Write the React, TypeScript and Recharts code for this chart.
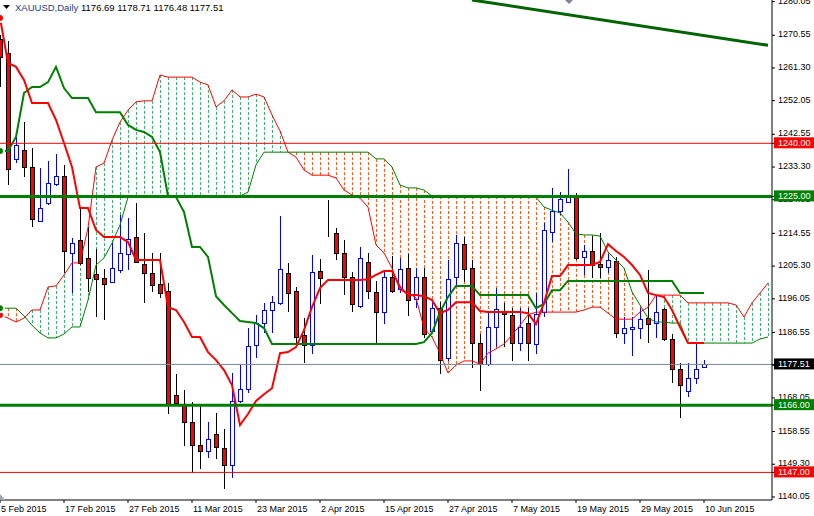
import React from "react";
import { ComposedChart, Bar, Line, XAxis, YAxis, ReferenceLine } from "recharts";

// date labels every 8th bar, starting at bar 0
const tickLabels = [
  "5 Feb 2015", "17 Feb 2015", "27 Feb 2015", "11 Mar 2015", "23 Mar 2015", "2 Apr 2015",
  "15 Apr 2015", "27 Apr 2015", "7 May 2015", "19 May 2015", "29 May 2015", "10 Jun 2015",
];

const opens = [
  1269.5, 1265.55, 1235.7, 1237.98, 1233.4, 1218.08, 1223.2, 1228.6, 1230.9, 1209.0,
  1212.7, 1207.55, 1203.0, 1201.9, 1200.75, 1204.15, 1208.7, 1213.5, 1205.9, 1203.3,
  1200.2, 1198.2, 1168.9, 1166.0, 1161.25, 1154.7, 1153.0, 1157.8, 1153.85, 1149.0,
  1167.2, 1170.6, 1183.1, 1189.1, 1192.8, 1194.8, 1203.3, 1198.2, 1185.7, 1183.1,
  1203.85, 1214.7, 1214.65, 1209.0, 1202.2, 1193.9, 1206.4, 1197.9, 1192.2, 1202.2,
  1198.75, 1204.7, 1195.9, 1202.2, 1187.1, 1193.6, 1179.4, 1202.2, 1211.55, 1204.7,
  1183.7, 1177.7, 1187.95, 1192.5, 1191.6, 1183.7, 1189.1, 1183.4, 1192.2, 1214.95,
  1220.9, 1223.5, 1225.5, 1207.85, 1209.55, 1205.9, 1205.0, 1206.7, 1186.5, 1187.4,
  1187.7, 1190.5, 1189.1, 1193.05, 1184.8, 1176.3, 1170.05, 1173.75, 1176.69,
];
const highs = [
  1270.6, 1268.96, 1241.9, 1245.95, 1238.8, 1232.9, 1234.9, 1236.85, 1234.0, 1213.25,
  1222.05, 1216.4, 1210.1, 1204.4, 1211.8, 1219.8, 1218.9, 1223.2, 1214.65, 1209.0,
  1209.0, 1200.45, 1174.9, 1170.3, 1166.9, 1166.35, 1161.25, 1163.8, 1159.2, 1175.15,
  1177.4, 1187.7, 1191.35, 1194.8, 1196.8, 1219.5, 1206.15, 1199.3, 1190.5, 1208.4,
  1207.3, 1224.05, 1216.1, 1212.7, 1203.6, 1210.7, 1209.0, 1201.0, 1204.15, 1208.1,
  1207.55, 1208.7, 1204.7, 1204.7, 1194.8, 1195.05, 1207.0, 1214.1, 1213.5, 1207.0,
  1186.25, 1192.2, 1199.05, 1194.8, 1193.35, 1193.6, 1193.35, 1197.6, 1217.5, 1227.5,
  1226.3, 1232.6, 1226.05, 1211.25, 1213.8, 1214.65, 1208.7, 1207.85, 1190.8, 1190.8,
  1193.6, 1204.15, 1197.05, 1193.6, 1186.25, 1178.0, 1178.0, 1183.4, 1178.71,
];
const lows = [
  1255.9, 1228.3, 1234.3, 1230.6, 1216.4, 1217.8, 1222.6, 1228.0, 1203.3, 1197.6,
  1205.6, 1197.9, 1190.8, 1190.2, 1200.45, 1203.3, 1204.15, 1206.15, 1194.8, 1197.9,
  1196.2, 1163.5, 1165.8, 1154.4, 1146.75, 1148.1, 1151.0, 1150.7, 1142.4, 1145.3,
  1166.6, 1169.5, 1179.4, 1186.3, 1186.3, 1194.2, 1192.2, 1182.8, 1178.0, 1180.5,
  1194.5, 1213.5, 1207.0, 1197.05, 1192.2, 1193.6, 1195.9, 1183.4, 1188.8, 1197.6,
  1197.6, 1191.1, 1193.6, 1185.1, 1186.3, 1174.9, 1178.6, 1199.3, 1200.75, 1176.6,
  1170.05, 1177.15, 1182.3, 1182.3, 1178.6, 1181.4, 1178.6, 1180.5, 1190.8, 1212.1,
  1219.8, 1223.2, 1207.0, 1202.7, 1201.9, 1201.9, 1203.3, 1185.1, 1183.4, 1180.0,
  1184.8, 1183.7, 1185.1, 1184.25, 1172.3, 1162.4, 1168.35, 1172.05, 1176.48,
];
const closes = [
  1264.4, 1232.8, 1239.4, 1233.4, 1218.65, 1221.8, 1228.9, 1230.9, 1209.55, 1211.8,
  1206.15, 1201.9, 1201.6, 1200.2, 1204.7, 1209.0, 1213.0, 1206.4, 1203.3, 1199.9,
  1197.6, 1166.0, 1166.6, 1161.25, 1154.7, 1153.0, 1156.4, 1154.1, 1149.0, 1167.2,
  1170.6, 1182.8, 1189.1, 1192.8, 1195.05, 1204.4, 1197.6, 1185.4, 1183.1, 1203.6,
  1201.9, 1214.6, 1209.0, 1202.2, 1194.5, 1207.55, 1198.2, 1192.2, 1202.2, 1198.2,
  1204.4, 1195.6, 1202.2, 1186.25, 1193.6, 1178.85, 1201.6, 1211.8, 1204.4, 1183.7,
  1177.7, 1187.95, 1193.05, 1191.9, 1183.7, 1188.2, 1183.7, 1191.9, 1215.5, 1220.9,
  1224.3, 1225.5, 1207.55, 1209.55, 1205.6, 1205.0, 1207.0, 1186.5, 1187.7, 1188.0,
  1190.25, 1188.8, 1192.2, 1184.8, 1176.3, 1171.75, 1173.75, 1176.3, 1177.51,
];

const tenkan = [
  1275.4, 1262.7, 1261.6, 1257.9, 1251.4, 1251.4, 1251.4, 1246.6, 1240.1, 1233.3,
  1221.7, 1221.7, 1215.5, 1213.5, 1213.5, 1213.5, 1212.1, 1207.0, 1207.0, 1207.0,
  1207.0, 1193.7, 1192.9, 1189.5, 1185.25, 1185.25, 1181.0, 1178.75, 1175.9, 1171.7,
  1160.4, 1163.5, 1167.2, 1169.1, 1170.8, 1180.7, 1181.0, 1182.4, 1187.2, 1193.7,
  1199.1, 1201.4, 1201.4, 1201.4, 1201.4, 1201.4, 1201.6, 1202.8, 1203.9, 1203.9,
  1199.4, 1197.1, 1197.1, 1196.8, 1195.7, 1192.0, 1192.9, 1195.1, 1195.1, 1195.1,
  1192.6, 1192.3, 1192.3, 1192.3, 1192.3, 1192.3, 1192.0, 1188.9, 1194.9, 1202.5,
  1202.5, 1205.6, 1205.6, 1205.6, 1205.6, 1206.45, 1211.5, 1209.55, 1207.9, 1205.6,
  1202.8, 1197.7, 1197.1, 1196.55, 1192.9, 1188.1, 1183.55, 1183.55, 1183.55,
];
const kijun = [
  1237.8, 1237.8, 1241.8, 1254.2, 1255.9, 1255.9, 1257.3, 1261.6, 1255.6, 1252.8,
  1252.8, 1252.8, 1248.8, 1248.8, 1248.8, 1248.8, 1245.2, 1243.8, 1243.2, 1241.8,
  1237.5, 1225.1, 1224.8, 1220.6, 1210.7, 1210.7, 1207.9, 1196.8, 1194.3, 1192.0,
  1189.8, 1189.5, 1189.2, 1187.8, 1183.3, 1183.3, 1183.3, 1183.3, 1183.3, 1183.3,
  1183.3, 1183.3, 1183.3, 1183.3, 1183.3, 1183.3, 1183.3, 1183.3, 1183.3, 1183.3,
  1183.3, 1183.3, 1183.3, 1183.8, 1186.4, 1192.3, 1196.55, 1199.7, 1199.7, 1199.7,
  1197.1, 1197.1, 1197.1, 1197.1, 1197.1, 1197.1, 1197.1, 1193.4, 1194.6, 1198.5,
  1198.5, 1201.1, 1201.1, 1201.1, 1201.1, 1201.1, 1201.1, 1201.1, 1201.1, 1201.1,
  1201.1, 1201.1, 1201.1, 1201.1, 1201.1, 1197.7, 1197.7, 1197.7, 1197.7,
];

// cloud spans run 8 bars past the last candle
const spanA = [
  1191.5, 1190.6, 1189.5, 1190.6, 1192.9, 1192.9, 1199.4, 1199.7, 1202.8, 1206.2,
  1206.2, 1216.1, 1233.3, 1234.4, 1240.9, 1246.0, 1249.4, 1251.7, 1252.0, 1252.0,
  1259.3, 1258.7, 1258.7, 1258.7, 1258.7, 1257.3, 1256.5, 1250.3, 1252.0, 1255.1,
  1253.1, 1253.1, 1253.9, 1253.1, 1248.0, 1243.5, 1237.5, 1236.1, 1232.45, 1231.0,
  1231.0, 1231.0, 1230.2, 1226.8, 1225.4, 1224.5, 1222.0, 1211.25, 1209.0, 1204.75,
  1198.5, 1197.7, 1196.3, 1187.8, 1185.25, 1180.7, 1175.1, 1177.3, 1178.5, 1178.5,
  1177.6, 1180.7, 1181.9, 1183.3, 1185.8, 1188.6, 1191.5, 1192.3, 1192.3, 1192.3,
  1192.3, 1192.3, 1192.3, 1192.9, 1193.7, 1193.7, 1192.0, 1190.3, 1190.3, 1190.3,
  1192.3, 1193.7, 1197.1, 1197.1, 1197.1, 1197.1, 1194.9, 1194.9, 1194.9, 1194.9,
  1194.9, 1194.9, 1194.3, 1190.9, 1194.9, 1197.7, 1200.5,
];
const spanB = [
  1193.4, 1193.4, 1193.4, 1191.2, 1188.6, 1186.4, 1185.0, 1185.0, 1186.1, 1188.1,
  1188.1, 1195.7, 1205.6, 1207.6, 1211.8, 1216.9, 1224.8, 1225.1, 1225.1, 1225.1,
  1225.1, 1225.1, 1225.1, 1225.1, 1225.1, 1225.1, 1225.1, 1225.1, 1225.1, 1225.1,
  1225.1, 1226.2, 1233.9, 1237.5, 1237.5, 1237.5, 1237.5, 1237.5, 1237.5, 1237.5,
  1237.5, 1237.5, 1237.5, 1237.5, 1237.5, 1237.5, 1237.5, 1235.6, 1235.6, 1233.3,
  1228.2, 1227.4, 1227.4, 1226.8, 1225.1, 1225.1, 1225.1, 1225.1, 1225.1, 1225.1,
  1225.1, 1225.1, 1225.1, 1225.1, 1225.1, 1225.1, 1225.1, 1224.8, 1222.0, 1221.1,
  1220.3, 1217.75, 1214.4, 1214.1, 1214.1, 1213.8, 1209.3, 1207.0, 1204.75, 1198.0,
  1194.3, 1190.6, 1189.5, 1189.5, 1189.2, 1189.2, 1183.55, 1183.55, 1183.55, 1183.55,
  1183.55, 1183.55, 1183.55, 1183.55, 1183.55, 1184.7, 1185.25,
];

const priceTicks = [
  1280.05, 1270.55, 1261.3, 1252.05, 1242.55, 1233.3, 1224.05, 1214.55,
  1205.3, 1196.05, 1186.55, 1177.3, 1168.05, 1158.55, 1149.3, 1140.05,
];
const levelBoxes: Record<string, string> = {
  "1240": "#ff0000",
  "1225": "#008000",
  "1177.51": "#000000",
  "1166": "#008000",
  "1147": "#ff0000",
};
const lastPrice = 1177.51;

const rows = spanA.map((a, i) => ({
  i,
  candle: i < opens.length ? [lows[i], highs[i]] : undefined,
  open: opens[i],
  close: closes[i],
  tenkan: tenkan[i],
  kijun: kijun[i],
  spanA: a,
  spanB: spanB[i],
  cloud: a === spanB[i] ? undefined : [Math.min(a, spanB[i]), Math.max(a, spanB[i])],
}));

const FONT = "'Liberation Sans', Arial, sans-serif";

function Candle(props: any) {
  const { x, y, width, height, payload } = props;
  if (!payload || payload.open == null || !payload.candle) return null;
  const [lo, hi] = payload.candle;
  const top = Math.min(y, y + height);
  const h = Math.abs(height);
  const k = hi > lo ? h / (hi - lo) : 0;
  const py = (v: number) => top + (hi - v) * k;
  const cx = Math.round(x + width / 2);
  const up = payload.close >= payload.open;
  const bTop = Math.round(py(Math.max(payload.open, payload.close)));
  const bBot = Math.round(py(Math.min(payload.open, payload.close)));
  const wickTop = Math.round(top);
  const wickBot = Math.round(top + h);
  return (
    <g>
      <rect x={cx} y={wickTop} width={1} height={Math.max(1, wickBot - wickTop)} fill={up ? "#0000ff" : "#000000"} />
      <rect
        x={cx - 1.5}
        y={bTop + 0.5}
        width={4}
        height={Math.max(0, bBot - bTop)}
        fill={up ? "#ffffff" : "#ff0000"}
        stroke={up ? "#0000ff" : "#000000"}
        strokeWidth={1}
      />
    </g>
  );
}

function CloudDash(props: any) {
  const { x, y, width, height, payload } = props;
  if (!payload || !payload.cloud) return null;
  const cx = Math.round(x + width / 2) + 0.5;
  const top = Math.min(y, y + height);
  const color = payload.spanA > payload.spanB ? "#3cb371" : "#ff5a1a";
  return (
    <line x1={cx} x2={cx} y1={top} y2={top + Math.abs(height)} stroke={color} strokeWidth={1} strokeDasharray="3 2" />
  );
}

function PriceTick(props: any) {
  const { x, y, payload } = props;
  const v = payload.value as number;
  const bg = levelBoxes[String(v)];
  if (bg) {
    return (
      <g>
        <rect x={x - 3} y={y - 6} width={42} height={11} fill={bg} />
        <text x={x + 1} y={y + 3} fill="#ffffff" fontSize={9} fontFamily={FONT}>
          {v.toFixed(2)}
        </text>
      </g>
    );
  }
  return (
    <text x={x + 1} y={y + 2.2} fill="#000000" fontSize={9} fontFamily={FONT}>
      {v.toFixed(2)}
    </text>
  );
}

function DateTick(props: any) {
  const { x, payload } = props;
  const label = tickLabels[Math.round(payload.value / 8)];
  return (
    <text x={x + 1} y={512} fill="#000000" fontSize={9} fontFamily={FONT}>
      {label}
    </text>
  );
}

export default function App() {
  const yTicks = [...priceTicks, 1240, 1225, lastPrice, 1166, 1147];
  return (
    <div
      style={{
        position: "absolute",
        left: 0,
        top: 0,
        width: 814,
        height: 516,
        overflow: "hidden",
        background: "#ffffff",
        fontFamily: FONT,
      }}
    >
      <div style={{ position: "absolute", left: -4, top: 0 }}>
        <ComposedChart width={818} height={516} data={rows} margin={{ top: 0, right: 0, bottom: 0, left: 0 }}>
          <XAxis
            xAxisId="a"
            dataKey="i"
            height={16}
            ticks={[0, 8, 16, 24, 32, 40, 48, 56, 64, 72, 80, 88]}
            interval={0}
            tick={<DateTick />}
            tickSize={3}
            axisLine={{ stroke: "#000000" }}
            tickLine={{ stroke: "#000000" }}
          />
          <XAxis xAxisId="b" dataKey="i" hide />
          <YAxis
            orientation="right"
            width={42}
            domain={[1139.2, 1280.5]}
            allowDataOverflow
            ticks={yTicks}
            interval={0}
            tick={<PriceTick />}
            tickSize={3}
            tickMargin={2}
            axisLine={{ stroke: "#000000" }}
            tickLine={{ stroke: "#000000" }}
          />
          <Bar xAxisId="b" dataKey="cloud" shape={<CloudDash />} isAnimationActive={false} />
          <Line xAxisId="a" dataKey="spanA" stroke="#ff0000" strokeWidth={1} dot={false} isAnimationActive={false} />
          <Line xAxisId="a" dataKey="spanB" stroke="#008000" strokeWidth={1} dot={false} isAnimationActive={false} />
          <Bar xAxisId="a" dataKey="candle" shape={<Candle />} isAnimationActive={false} />
          <Line xAxisId="a" dataKey="kijun" stroke="#008000" strokeWidth={2} dot={false} isAnimationActive={false} />
          <Line xAxisId="a" dataKey="tenkan" stroke="#ff0000" strokeWidth={2} dot={false} isAnimationActive={false} />
          <ReferenceLine xAxisId="a" y={1240} stroke="#ff0000" strokeWidth={1} />
          <ReferenceLine xAxisId="a" y={1225} stroke="#008000" strokeWidth={3} />
          <ReferenceLine xAxisId="a" y={lastPrice} stroke="#7a8899" strokeWidth={1} />
          <ReferenceLine xAxisId="a" y={1166} stroke="#008000" strokeWidth={3} />
          <ReferenceLine xAxisId="a" y={1147} stroke="#ff0000" strokeWidth={1} />
          <ReferenceLine
            xAxisId="a"
            segment={[
              { x: 59, y: 1280.5 },
              { x: 96, y: 1267.7 },
            ]}
            stroke="#006400"
            strokeWidth={3}
          />
        </ComposedChart>
      </div>
      <svg width={814} height={516} style={{ position: "absolute", left: 0, top: 0, pointerEvents: "none" }}>
        <path d="M3,5 L10,5 L6.5,9 Z" fill="#000000" />
        <text x={15} y={10.5} fontSize={9.5} fontFamily={FONT}>
          <tspan fill="#1f3c78">XAUUSD,Daily</tspan>
          <tspan fill="#000000">{"  1176.69 1178.71 1176.48 1177.51"}</tspan>
        </text>
        <path d="M565,0 L573,0 L569,4 Z" fill="#7b8794" />
        <path d="M0,494 L0,500 L5,500 Z" fill="#9aa3ad" />
      </svg>
    </div>
  );
}
